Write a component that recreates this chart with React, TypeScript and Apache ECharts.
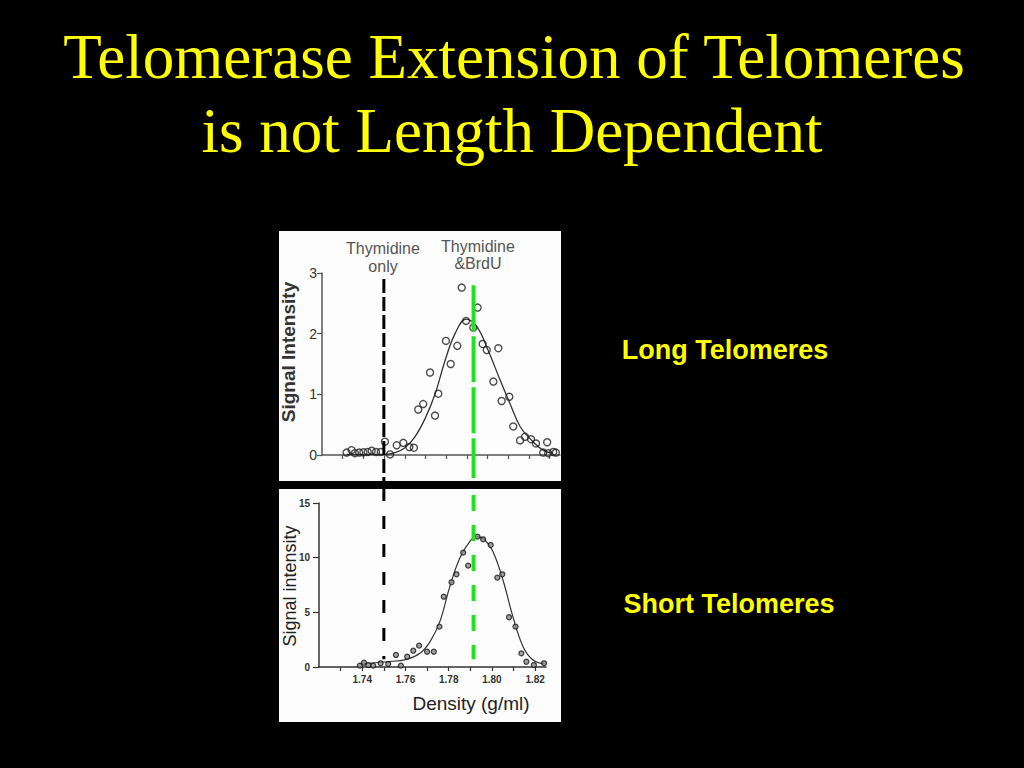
import React, { useEffect, useRef } from "react";
import * as echarts from "echarts";

// ---------- Text ----------
const titleLines = ["Telomerase Extension of Telomeres", "is not Length Dependent"];
const longLabel = "Long Telomeres";
const shortLabel = "Short Telomeres";
const topHeaders = [
  ["Thymidine", "only"],
  ["Thymidine", "&BrdU"],
];
const topYName = "Signal Intensity";
const bottomYName = "Signal intensity";
const bottomXName = "Density (g/ml)";

// ---------- Top panel (long telomeres) ----------
const topPointsX = [1.7319, 1.7343, 1.7359, 1.738, 1.74, 1.7421, 1.744, 1.7461, 1.7484, 1.7504, 1.7529, 1.7561, 1.7593, 1.7622, 1.7644, 1.7665, 1.7689, 1.7722, 1.7746, 1.7762, 1.7799, 1.7822, 1.7854, 1.7875, 1.7896, 1.7931, 1.7952, 1.7976, 1.7996, 1.8028, 1.8052, 1.8068, 1.8105, 1.8124, 1.8157, 1.8181, 1.821, 1.8234, 1.8269, 1.8288, 1.8293, 1.8317, 1.833];
const topPointsY = [0.04, 0.08, 0.03, 0.04, 0.045, 0.05, 0.07, 0.05, 0.05, 0.22, 0.01, 0.16, 0.2, 0.13, 0.12, 0.75, 0.84, 1.36, 0.65, 1.01, 1.88, 1.5, 1.8, 2.76, 2.21, 2.1, 2.43, 1.83, 1.73, 1.21, 1.76, 0.89, 0.96, 0.47, 0.24, 0.3, 0.26, 0.19, 0.04, 0.21, 0.03, 0.05, 0.04];
const topCurveX = [1.7319, 1.7504, 1.7553, 1.7601, 1.7649, 1.7698, 1.7746, 1.7794, 1.7843, 1.7896, 1.7949, 1.8002, 1.806, 1.8108, 1.8157, 1.8205, 1.8268, 1.8316];
const topCurveY = [0.01, 0.01, 0.04, 0.12, 0.3, 0.6, 1.0, 1.55, 2.0, 2.24, 2.11, 1.73, 1.24, 0.85, 0.47, 0.27, 0.08, 0.03];
const topXTicks = [1.73, 1.74, 1.75, 1.76, 1.77, 1.78, 1.79, 1.8, 1.81, 1.82, 1.83];
const topYTicks = [0, 1, 2, 3];

// ---------- Bottom panel (short telomeres) ----------
const botPointsX = [1.7389, 1.7408, 1.7428, 1.7451, 1.7485, 1.752, 1.7556, 1.7579, 1.7608, 1.7636, 1.7663, 1.77, 1.7731, 1.7757, 1.7777, 1.7813, 1.7836, 1.7867, 1.789, 1.7933, 1.7959, 1.7994, 1.8025, 1.8048, 1.8079, 1.8109, 1.8136, 1.8159, 1.8194, 1.8241];
const botPointsY = [0.12, 0.39, 0.18, 0.12, 0.34, 0.27, 1.1, 0.12, 0.94, 1.49, 1.95, 1.4, 1.4, 3.69, 6.43, 7.75, 8.48, 10.46, 9.27, 11.92, 11.68, 11.16, 8.17, 8.48, 4.55, 3.69, 1.25, 0.48, 0.18, 0.34];
const botCurveX = [1.7389, 1.7513, 1.7605, 1.7667, 1.7713, 1.7759, 1.7805, 1.7851, 1.7897, 1.7928, 1.7967, 1.8005, 1.8051, 1.8097, 1.8144, 1.819, 1.8244];
const botCurveY = [0.27, 0.48, 0.7, 1.25, 2.3, 4.15, 7.35, 9.95, 11.46, 11.92, 11.62, 10.55, 7.96, 4.6, 1.86, 0.64, 0.27];
const botXTicks = [1.73, 1.74, 1.75, 1.76, 1.77, 1.78, 1.79, 1.8, 1.81, 1.82];
const botXLabels = [1.74, 1.76, 1.78, 1.8, 1.82];
const botYTicks = [0, 5, 10, 15];

// ---------- Reference densities (dashed lines) ----------
const thymidineOnly = 1.75;
const thymidineBrdU = 1.7915;

const zip = (xs: number[], ys: number[]) => xs.map((x, i) => [x, ys[i]]);

const SANS = "'Liberation Sans', Arial, sans-serif";
const SERIF = "'Liberation Serif', 'Times New Roman', serif";

export default function App() {
  const ref = useRef<HTMLDivElement>(null);
  useEffect(() => {
    if (!ref.current) return;
    const chart = echarts.init(ref.current, null, { renderer: "svg", width: 1024, height: 768 });

    const baseGraphics: any[] = [
      { id: "panelTop", type: "rect", z: -10, shape: { x: 279, y: 231, width: 282, height: 250 }, style: { fill: "#fdfdfd" } },
      { id: "panelBot", type: "rect", z: -10, shape: { x: 279, y: 489, width: 282, height: 233 }, style: { fill: "#fdfdfd" } },
      { id: "t1", type: "text", x: 514, y: 57, style: { text: titleLines[0], font: `63px ${SERIF}`, fill: "#ffff00", align: "center", verticalAlign: "middle" } },
      { id: "t2", type: "text", x: 512, y: 131, style: { text: titleLines[1], font: `63px ${SERIF}`, fill: "#ffff00", align: "center", verticalAlign: "middle" } },
      { id: "long", type: "text", x: 725, y: 350, style: { text: longLabel, font: `bold 27px ${SANS}`, fill: "#ffff00", align: "center", verticalAlign: "middle" } },
      { id: "short", type: "text", x: 729, y: 604, style: { text: shortLabel, font: `bold 27px ${SANS}`, fill: "#ffff00", align: "center", verticalAlign: "middle" } },
      { id: "h1a", type: "text", x: 383, y: 248, style: { text: topHeaders[0][0], font: `16px ${SANS}`, fill: "#555", align: "center", verticalAlign: "middle" } },
      { id: "h1b", type: "text", x: 383, y: 266, style: { text: topHeaders[0][1], font: `16px ${SANS}`, fill: "#555", align: "center", verticalAlign: "middle" } },
      { id: "h2a", type: "text", x: 478, y: 246, style: { text: topHeaders[1][0], font: `16px ${SANS}`, fill: "#555", align: "center", verticalAlign: "middle" } },
      { id: "h2b", type: "text", x: 478, y: 263, style: { text: topHeaders[1][1], font: `16px ${SANS}`, fill: "#555", align: "center", verticalAlign: "middle" } },
      { id: "tyn", type: "text", x: 288, y: 352, rotation: Math.PI / 2, style: { text: topYName, font: `bold 19px ${SANS}`, fill: "#333", align: "center", verticalAlign: "middle" } },
      { id: "byn", type: "text", x: 290, y: 586, rotation: Math.PI / 2, style: { text: bottomYName, font: `18px ${SANS}`, fill: "#222", align: "center", verticalAlign: "middle" } },
      { id: "bxn", type: "text", x: 471, y: 703, style: { text: bottomXName, font: `19px ${SANS}`, fill: "#222", align: "center", verticalAlign: "middle" } },
    ];

    const option: any = {
      animation: false,
      backgroundColor: "#000",
      textStyle: { fontFamily: SANS },
      grid: [
        { left: 322, top: 273, width: 238, height: 182 },
        { left: 319, top: 503, width: 227, height: 164 },
      ],
      xAxis: [
        {
          type: "value", gridIndex: 0, min: 1.72, max: 1.835,
          axisLine: { lineStyle: { color: "#555", width: 1.5 } },
          axisTick: { show: true, length: 4, customValues: topXTicks, lineStyle: { color: "#555", width: 1.2 } },
          axisLabel: { show: false },
          splitLine: { show: false },
        },
        {
          type: "value", gridIndex: 1, min: 1.72, max: 1.825,
          axisLine: { lineStyle: { color: "#333", width: 1.5 } },
          axisTick: { show: true, length: 4, customValues: botXTicks, lineStyle: { color: "#333", width: 1.2 } },
          axisLabel: { customValues: botXLabels, formatter: (v: number) => v.toFixed(2), color: "#333", fontWeight: "bold", fontSize: 10, margin: 7 },
          splitLine: { show: false },
        },
      ],
      yAxis: [
        {
          type: "value", gridIndex: 0, min: 0, max: 3,
          axisLine: { show: true, lineStyle: { color: "#555", width: 1.5 } },
          axisTick: { show: true, length: 5, customValues: topYTicks, lineStyle: { color: "#555", width: 1.2 } },
          axisLabel: { customValues: topYTicks, color: "#333", fontSize: 14, margin: 5 },
          splitLine: { show: false },
        },
        {
          type: "value", gridIndex: 1, min: 0, max: 15,
          axisLine: { show: true, lineStyle: { color: "#333", width: 1.5 } },
          axisTick: { show: true, length: 6, customValues: botYTicks, lineStyle: { color: "#333", width: 1.2 } },
          axisLabel: { customValues: botYTicks, color: "#333", fontWeight: "bold", fontSize: 10, margin: 9 },
          splitLine: { show: false },
        },
      ],
      series: [
        {
          name: "Long fit", type: "line", xAxisIndex: 0, yAxisIndex: 0, data: zip(topCurveX, topCurveY),
          smooth: 0.4, showSymbol: false, lineStyle: { color: "#333", width: 1.3 }, z: 3,
        },
        {
          name: "Long data", type: "scatter", xAxisIndex: 0, yAxisIndex: 0, data: zip(topPointsX, topPointsY),
          symbol: "circle", symbolSize: 7, itemStyle: { color: "rgba(255,255,255,0)", borderColor: "#222", borderWidth: 1.4 }, z: 4,
        },
        {
          name: "Short fit", type: "line", xAxisIndex: 1, yAxisIndex: 1, data: zip(botCurveX, botCurveY),
          smooth: 0.4, showSymbol: false, lineStyle: { color: "#333", width: 1.2 }, z: 3,
        },
        {
          name: "Short data", type: "scatter", xAxisIndex: 1, yAxisIndex: 1, data: zip(botPointsX, botPointsY),
          symbol: "circle", symbolSize: 5, itemStyle: { color: "#8a8a8a", borderColor: "#111", borderWidth: 1.2 }, z: 4,
        },
      ],
      graphic: { elements: baseGraphics },
    };

    chart.setOption(option);

    const xBlack = chart.convertToPixel({ xAxisIndex: 1 }, thymidineOnly) as number;
    const xGreen = chart.convertToPixel({ xAxisIndex: 1 }, thymidineBrdU) as number;
    const yTopStart = chart.convertToPixel({ yAxisIndex: 0 }, 2.9) as number;
    const yTopGreen = chart.convertToPixel({ yAxisIndex: 0 }, 2.8) as number;
    const yBotEnd = chart.convertToPixel({ yAxisIndex: 1 }, 0.7) as number;

    const lines: any[] = [
      { id: "blackTop", type: "line", z: 100, shape: { x1: xBlack, y1: yTopStart, x2: xBlack, y2: 482 }, style: { stroke: "#000", lineWidth: 3, lineDash: [14, 4] } },
      { id: "blackBot", type: "line", z: 100, shape: { x1: xBlack, y1: 488, x2: xBlack, y2: yBotEnd }, style: { stroke: "#000", lineWidth: 3, lineDash: [13, 15] } },
      { id: "greenTop", type: "line", z: 100, shape: { x1: xGreen, y1: yTopGreen, x2: xGreen, y2: 478 }, style: { stroke: "#22e022", lineWidth: 4, lineDash: [46, 5] } },
      { id: "greenBot", type: "line", z: 100, shape: { x1: xGreen, y1: 495, x2: xGreen, y2: yBotEnd }, style: { stroke: "#22e022", lineWidth: 4, lineDash: [16, 14] } },
    ];
    chart.setOption({ graphic: { elements: [...baseGraphics, ...lines] } });

    return () => chart.dispose();
  }, []);

  return (
    <div
      ref={ref}
      style={{ position: "fixed", left: 0, top: 0, width: 1024, height: 768, background: "#000" }}
    />
  );
}
